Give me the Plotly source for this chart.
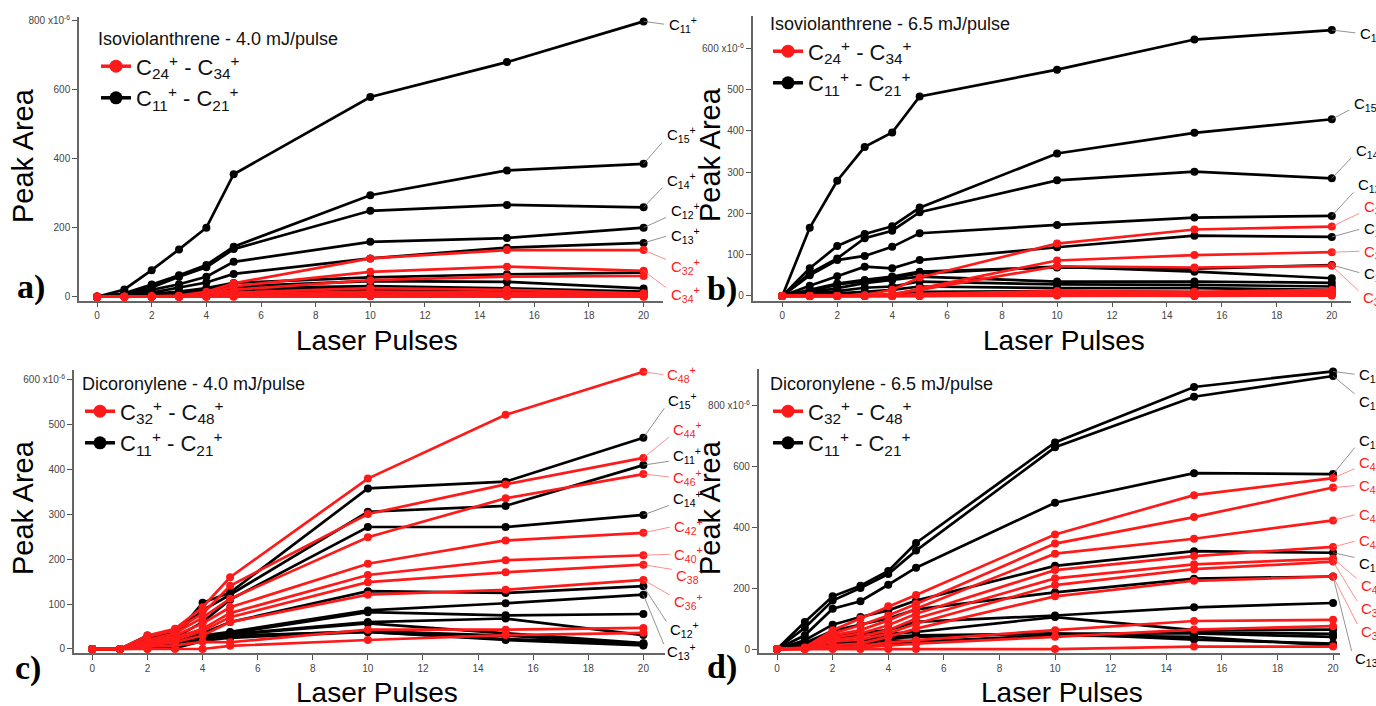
import plotly.graph_objects as go

# ---------------- DATA ----------------
x_pulses = [0, 1, 2, 3, 4, 5, 10, 15, 20]

# Panel a) Isoviolanthrene - 4.0 mJ/pulse
a_title = "Isoviolanthrene - 4.0 mJ/pulse"
a_red_legend = "C<sub>24</sub><sup>+</sup> - C<sub>34</sub><sup>+</sup>"
a_black_legend = "C<sub>11</sub><sup>+</sup> - C<sub>21</sub><sup>+</sup>"
a_black_names = ["C11", "C15", "C14", "C12", "C13", "C16", "C17", "C18", "C19", "C20", "C21"]
a_black_values = [
    [0, 21, 77, 137, 200, 355, 579, 680, 798],
    [0, 10, 35, 62, 92, 145, 294, 366, 385],
    [0, 8, 27, 58, 85, 138, 249, 266, 259],
    [0, 6, 20, 36, 58, 101, 159, 170, 200],
    [0, 4, 12, 26, 41, 66, 111, 142, 156],
    [0, 3, 8, 15, 25, 40, 56, 65, 70],
    [0, 2, 6, 12, 20, 30, 45, 43, 24],
    [0, 2, 5, 10, 16, 25, 31, 24, 15],
    [0, 1, 4, 8, 12, 18, 28, 20, 10],
    [0, 1, 3, 5, 8, 12, 20, 14, 6],
    [0, 0, 2, 3, 5, 8, 12, 8, 2],
]
a_red_names = ["C32", "C34", "C33", "C31", "C30", "C29", "C28", "C27", "C26", "C25", "C24"]
a_red_values = [
    [0, 0, 1, 3, 14, 39, 111, 135, 135],
    [0, 0, 1, 2, 8, 30, 72, 87, 75],
    [0, 0, 1, 2, 6, 20, 48, 58, 60],
    [0, 0, 0, 1, 4, 12, 25, 20, 10],
    [0, 0, 0, 1, 3, 8, 15, 12, 6],
    [0, 0, 0, 1, 2, 6, 10, 10, 5],
    [0, 0, 0, 0, 2, 5, 8, 8, 3],
    [0, 0, 0, 0, 1, 3, 5, 6, 2],
    [0, 0, 0, 0, 1, 2, 3, 4, 1],
    [0, 0, 0, 0, 0, 1, 2, 2, 1],
    [0, 0, 0, 0, 0, 0, 1, 1, 0],
]
a_yticks = [0, 200, 400, 600, 800]
a_yticktext = ["0", "200", "400", "600", "800 x10<sup>-6</sup>"]
a_labels = ["C11", "C15", "C14", "C12", "C13", "C32", "C34"]

# Panel b) Isoviolanthrene - 6.5 mJ/pulse
b_title = "Isoviolanthrene - 6.5 mJ/pulse"
b_red_legend = "C<sub>24</sub><sup>+</sup> - C<sub>34</sub><sup>+</sup>"
b_black_legend = "C<sub>11</sub><sup>+</sup> - C<sub>21</sub><sup>+</sup>"
b_black_names = ["C11", "C15", "C14", "C12", "C13", "C17", "C16", "C18", "C19", "C20", "C21"]
b_black_values = [
    [0, 165, 279, 361, 396, 483, 548, 621, 644],
    [0, 67, 121, 150, 169, 214, 345, 395, 428],
    [0, 55, 91, 140, 158, 203, 280, 301, 285],
    [0, 50, 87, 97, 119, 152, 172, 190, 194],
    [0, 25, 48, 71, 67, 87, 118, 146, 143],
    [0, 15, 30, 39, 47, 59, 69, 66, 75],
    [0, 10, 28, 35, 43, 55, 71, 59, 43],
    [0, 8, 19, 31, 39, 47, 35, 35, 32],
    [0, 5, 12, 20, 23, 35, 28, 27, 23],
    [0, 3, 6, 10, 15, 23, 19, 19, 15],
    [0, 1, 2, 2, 2, 10, 12, 10, 7],
]
b_red_names = ["C32", "C34", "C30", "C33", "C31", "C29", "C28", "C27", "C26", "C25", "C24"]
b_red_values = [
    [0, 0, 0, 2, 15, 45, 127, 161, 168],
    [0, 0, 0, 0, 2, 18, 86, 99, 106],
    [0, 0, 0, 1, 5, 15, 72, 69, 73],
    [0, 0, 0, 0, 1, 5, 12, 10, 15],
    [0, 0, 0, 0, 1, 3, 10, 5, 11],
    [0, 0, 0, 0, 0, 2, 8, 2, 10],
    [0, 0, 0, 0, 0, 1, 6, 2, 8],
    [0, 0, 0, 0, 0, 1, 5, 1, 6],
    [0, 0, 0, 0, 0, 0, 3, 1, 4],
    [0, 0, 0, 0, 0, 0, 2, 0, 2],
    [0, 0, 0, 0, 0, 0, 1, 0, 1],
]
b_yticks = [0, 100, 200, 300, 400, 500, 600]
b_yticktext = ["0", "100", "200", "300", "400", "500", "600 x10<sup>-6</sup>"]
b_labels = ["C11", "C15", "C14", "C12", "C32", "C13", "C34", "C17", "C30"]

# Panel c) Dicoronylene - 4.0 mJ/pulse
c_title = "Dicoronylene - 4.0 mJ/pulse"
c_red_legend = "C<sub>32</sub><sup>+</sup> - C<sub>48</sub><sup>+</sup>"
c_black_legend = "C<sub>11</sub><sup>+</sup> - C<sub>21</sub><sup>+</sup>"
c_black_names = ["C15", "C11", "C14", "C12", "C13", "C16", "C17", "C18", "C19", "C20", "C21"]
c_black_values = [
    [0, 0, 25, 30, 103, 126, 358, 373, 471],
    [0, 0, 30, 35, 86, 121, 306, 319, 410],
    [0, 0, 20, 25, 60, 110, 272, 272, 299],
    [0, 0, 12, 15, 35, 60, 129, 125, 140],
    [0, 0, 10, 12, 30, 38, 86, 102, 121],
    [0, 0, 8, 10, 27, 35, 82, 75, 78],
    [0, 0, 6, 8, 25, 33, 60, 68, 31],
    [0, 0, 4, 6, 24, 32, 57, 35, 13],
    [0, 0, 3, 4, 22, 30, 38, 20, 8],
    [0, 0, 2, 3, 20, 28, 40, 30, 10],
    [0, 0, 1, 2, 18, 25, 38, 22, 12],
]
c_red_names = ["C48", "C44", "C46", "C42", "C40", "C38", "C36", "C34", "C32"]
c_red_values = [
    [0, 0, 30, 45, 93, 160, 380, 522, 618],
    [0, 0, 27, 42, 79, 141, 301, 367, 426],
    [0, 0, 20, 35, 70, 112, 249, 336, 390],
    [0, 0, 15, 30, 57, 93, 190, 242, 259],
    [0, 0, 12, 25, 45, 80, 165, 198, 209],
    [0, 0, 10, 20, 40, 71, 149, 171, 188],
    [0, 0, 8, 15, 30, 60, 121, 132, 154],
    [0, 0, 5, 8, 16, 15, 43, 43, 47],
    [0, 0, 0, 0, 0, 7, 20, 31, 36],
]
c_yticks = [0, 100, 200, 300, 400, 500, 600]
c_yticktext = ["0", "100", "200", "300", "400", "500", "600 x10<sup>-6</sup>"]
c_labels = ["C48", "C15", "C44", "C11", "C46", "C14", "C42", "C40", "C38", "C36", "C12", "C13"]

# Panel d) Dicoronylene - 6.5 mJ/pulse
d_title = "Dicoronylene - 6.5 mJ/pulse"
d_red_legend = "C<sub>32</sub><sup>+</sup> - C<sub>48</sub><sup>+</sup>"
d_black_legend = "C<sub>11</sub><sup>+</sup> - C<sub>21</sub><sup>+</sup>"
d_black_names = ["C11", "C15", "C14", "C12", "C13", "C16", "C17", "C18", "C19", "C20", "C21"]
d_black_values = [
    [0, 89, 173, 208, 256, 348, 678, 860, 911],
    [0, 70, 159, 200, 246, 323, 662, 828, 896],
    [0, 45, 132, 157, 211, 267, 480, 577, 574],
    [0, 29, 80, 105, 127, 159, 273, 321, 316],
    [0, 20, 60, 80, 100, 130, 186, 231, 238],
    [0, 18, 40, 53, 62, 89, 110, 137, 151],
    [0, 12, 31, 45, 50, 56, 105, 62, 64],
    [0, 8, 20, 29, 40, 45, 51, 51, 40],
    [0, 5, 18, 25, 35, 40, 51, 31, 18],
    [0, 3, 10, 18, 29, 24, 45, 40, 11],
    [0, 2, 6, 10, 20, 20, 45, 55, 50],
]
d_red_names = ["C48", "C44", "C46", "C42", "C40", "C38", "C36", "C34", "C32", "C33"]
d_red_values = [
    [0, 5, 62, 100, 140, 177, 376, 505, 561],
    [0, 4, 51, 78, 110, 148, 346, 433, 530],
    [0, 3, 45, 62, 94, 132, 313, 362, 422],
    [0, 2, 38, 51, 78, 116, 259, 305, 335],
    [0, 2, 30, 40, 62, 100, 232, 278, 297],
    [0, 1, 24, 31, 51, 83, 210, 262, 287],
    [0, 1, 13, 18, 40, 67, 173, 224, 238],
    [0, 0, 5, 10, 21, 29, 62, 92, 96],
    [0, 0, 2, 5, 12, 18, 40, 64, 75],
    [0, 0, 0, 0, 0, 0, 0, 8, 8],
]
d_yticks = [0, 200, 400, 600, 800]
d_yticktext = ["0", "200", "400", "600", "800 x10<sup>-6</sup>"]
d_labels = ["C11", "C15", "C14", "C48", "C44", "C46", "C42", "C12", "C40", "C38", "C36", "C13"]

x_ticks = [0, 2, 4, 6, 8, 10, 12, 14, 16, 18, 20]

# ---------------- STYLE / LAYOUT ----------------
W, H = 1376, 706
BLACK = "#000000"
RED = "#ff1a1a"
FONT = "Liberation Sans Narrow, Liberation Sans, Arial, sans-serif"
SERIF = "Liberation Serif, Times New Roman, serif"


def px_x(p):
    return p / W


def px_y(p):
    return 1 - p / H


panel_style = {
    "a": dict(ax="x", ay="y", xd=[79, 663], yd=[16.7, 300.7], xr=[-0.66, 20.71], yr=[-11.6, 811.6],
              leg=(96, 22), letter=("a)", 31, 287), peak=(23, 156), laser=(377, 340),
              offs=[(24, 3), (22, -29), (22, -27), (26, -17), (26, -7), (26, 16), (26, 24)]),
    "b": dict(ax="x2", ay="y2", xd=[752.6, 1350.5], yd=[16, 300.7], xr=[-1.08, 20.68], yr=[-11.4, 678],
              leg=(768, 7), letter=("b)", 722, 289), peak=(710, 155), laser=(1064, 340),
              offs=[(27, 3), (21, -16), (23, -28), (25, -31), (31, -20), (31, -8), (31, -1), (31, 8), (30, 32)]),
    "c": dict(ax="x3", ay="y3", xd=[73.9, 664.6], yd=[370, 653.3], xr=[-0.67, 20.77], yr=[-9.6, 622],
              leg=(80, 367), letter=("c)", 28, 668), peak=(23, 508), laser=(377, 692),
              offs=[(23, 3), (24, -37), (29, -28), (29, -10), (29, 3), (29, -16), (30, -6), (30, -1),
                    (32, 11), (30, 22), (26, 43), (23, 57)]),
    "d": dict(ax="x4", ay="y4", xd=[758.7, 1340], yd=[369.3, 653.3], xr=[-0.66, 20.25], yr=[-14, 918],
              leg=(768, 367), letter=("d)", 722, 667), peak=(710, 508), laser=(1062, 692),
              offs=[(25, 3), (25, 25), (25, -34), (25, -16), (25, -2), (25, -6), (25, -6), (25, 11),
                    (27, 27), (27, 47), (27, 55), (21, 82)]),
}

panel_data = {
    "a": (a_title, a_red_legend, a_black_legend, a_black_names, a_black_values, a_red_names, a_red_values,
          a_yticks, a_yticktext, a_labels),
    "b": (b_title, b_red_legend, b_black_legend, b_black_names, b_black_values, b_red_names, b_red_values,
          b_yticks, b_yticktext, b_labels),
    "c": (c_title, c_red_legend, c_black_legend, c_black_names, c_black_values, c_red_names, c_red_values,
          c_yticks, c_yticktext, c_labels),
    "d": (d_title, d_red_legend, d_black_legend, d_black_names, d_black_values, d_red_names, d_red_values,
          d_yticks, d_yticktext, d_labels),
}

fig = go.Figure()
annotations = []
layout_extra = {}

for i, key in enumerate(["a", "b", "c", "d"]):
    st = panel_style[key]
    (title, red_leg, black_leg, bnames, bvals, rnames, rvals, yt, ytt, labels) = panel_data[key]
    xa, ya = st["ax"], st["ay"]
    legname = "legend" if i == 0 else "legend%d" % (i + 1)

    # black series first, red on top
    for nm, vals in zip(bnames, bvals):
        fig.add_trace(go.Scatter(x=x_pulses, y=vals, mode="lines+markers", name=nm, xaxis=xa, yaxis=ya,
                                 line=dict(color=BLACK, width=2.7), marker=dict(color=BLACK, size=8),
                                 cliponaxis=False, showlegend=False, legend=legname))
    for nm, vals in zip(rnames, rvals):
        fig.add_trace(go.Scatter(x=x_pulses, y=vals, mode="lines+markers", name=nm, xaxis=xa, yaxis=ya,
                                 line=dict(color=RED, width=2.7), marker=dict(color=RED, size=8),
                                 cliponaxis=False, showlegend=False, legend=legname))
    # legend entries
    fig.add_trace(go.Scatter(x=[None], y=[None], mode="lines+markers", name=red_leg, xaxis=xa, yaxis=ya,
                             line=dict(color=RED, width=3.5), marker=dict(color=RED, size=13),
                             showlegend=True, legend=legname))
    fig.add_trace(go.Scatter(x=[None], y=[None], mode="lines+markers", name=black_leg, xaxis=xa, yaxis=ya,
                             line=dict(color=BLACK, width=3.5), marker=dict(color=BLACK, size=13),
                             showlegend=True, legend=legname))

    layout_extra[legname] = dict(
        x=px_x(st["leg"][0]), y=px_y(st["leg"][1]), xanchor="left", yanchor="top",
        bgcolor="rgba(0,0,0,0)", traceorder="normal",
        title=dict(text=title, font=dict(family=FONT, size=18, color="#111")),
        font=dict(family=FONT, size=22, color="#111"), itemwidth=30,
    )

    axsuffix = "" if i == 0 else str(i + 1)
    layout_extra["xaxis" + axsuffix] = dict(
        domain=[px_x(st["xd"][0]), px_x(st["xd"][1])], range=st["xr"], anchor=ya,
        tickvals=x_ticks, ticks="outside", ticklen=5, tickwidth=1, tickcolor="#555",
        showline=True, linecolor="#666", linewidth=1.5, showgrid=False, zeroline=False,
        tickfont=dict(family=FONT, size=10, color="#444"), automargin=False,
    )
    layout_extra["yaxis" + axsuffix] = dict(
        domain=[px_y(st["yd"][1]), px_y(st["yd"][0])], range=st["yr"], anchor=xa,
        tickvals=yt, ticktext=ytt, ticks="outside", ticklen=5, tickwidth=1, tickcolor="#555",
        showline=True, linecolor="#666", linewidth=1.5, showgrid=False, zeroline=False,
        tickfont=dict(family=FONT, size=10, color="#444"), automargin=False,
    )

    # end-of-line labels: text + thin pointer line
    lookup = {}
    for nm, vals in zip(bnames, bvals):
        lookup.setdefault(nm, (vals[-1], BLACK))
    for nm, vals in zip(rnames, rvals):
        lookup.setdefault(nm, (vals[-1], RED))
    for nm, (dx, dy) in zip(labels, st["offs"]):
        val, col = lookup[nm]
        annotations.append(dict(
            x=x_pulses[-1], y=val, xref=xa, yref=ya, xshift=dx, yshift=-dy,
            text="C<sub>%s</sub><sup>+</sup>" % nm[1:], showarrow=False,
            xanchor="left", yanchor="middle", borderpad=0,
            font=dict(family=FONT, size=15, color=col),
        ))
        if dy < -8:
            ey = dy + 6
        elif dy > 8:
            ey = dy - 6
        else:
            ey = dy
        annotations.append(dict(
            x=x_pulses[-1], y=val, xref=xa, yref=ya, ax=dx - 2, ay=ey, text="",
            showarrow=True, arrowhead=0, arrowwidth=0.8,
            arrowcolor="#777" if col == BLACK else "#ff7070", standoff=0, startstandoff=0,
        ))

    # axis titles and panel letter
    annotations.append(dict(x=px_x(st["peak"][0]), y=px_y(st["peak"][1]), xref="paper", yref="paper",
                            text="Peak Area", showarrow=False, textangle=-90,
                            font=dict(family="Liberation Sans, Arial", size=29, color="#000"),
                            xanchor="center", yanchor="middle"))
    annotations.append(dict(x=px_x(st["laser"][0]), y=px_y(st["laser"][1]), xref="paper", yref="paper",
                            text="Laser Pulses", showarrow=False,
                            font=dict(family="Liberation Sans, Arial", size=28, color="#000"),
                            xanchor="center", yanchor="middle"))
    lt, lx, ly = st["letter"]
    annotations.append(dict(x=px_x(lx), y=px_y(ly), xref="paper", yref="paper",
                            text="<b>%s</b>" % lt, showarrow=False,
                            font=dict(family=SERIF, size=34, color="#000"),
                            xanchor="center", yanchor="middle"))

fig.update_layout(
    width=W, height=H, margin=dict(l=0, r=0, t=0, b=0),
    paper_bgcolor="white", plot_bgcolor="white",
    annotations=annotations, showlegend=True,
    **layout_extra,
)

fig.write_html("out.html", config={"displayModeBar": False},
               post_script="document.body.style.margin='0px';")
